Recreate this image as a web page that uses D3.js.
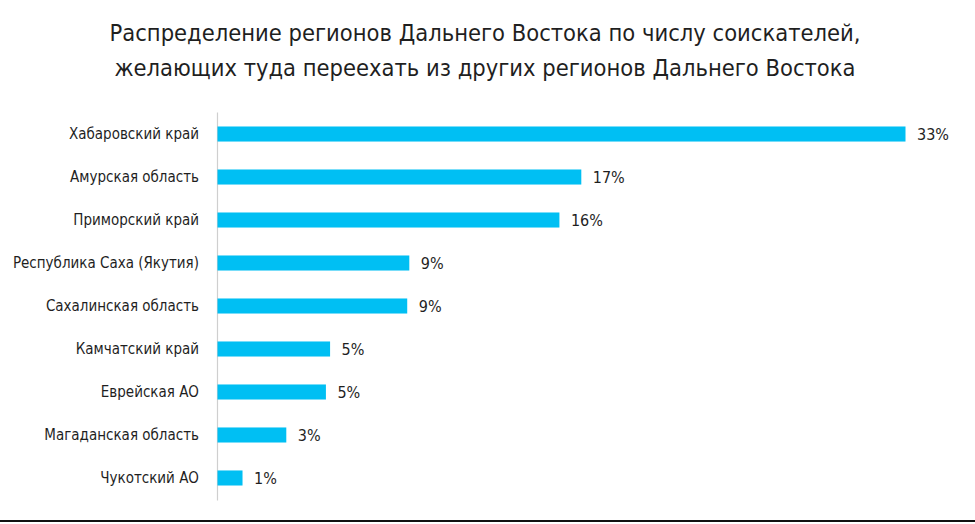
<!DOCTYPE html>
<html>
<head>
<meta charset="utf-8">
<script src="https://cdn.jsdelivr.net/npm/d3@7"></script>
<style>
  body { margin: 0; background: #fff; }
  svg text { font-family: "Liberation Sans Narrow", "DejaVu Sans Condensed", "Roboto", sans-serif; fill: #1f1f1f; }
</style>
</head>
<body>
<div id="chart"></div>
<script>
// data
var regions = ["Хабаровский край", "Амурская область", "Приморский край", "Республика Саха (Якутия)",
  "Сахалинская область", "Камчатский край", "Еврейская АО", "Магаданская область", "Чукотский АО"];
var shares = [33, 17.45, 16.4, 9.2, 9.1, 5.4, 5.2, 3.3, 1.2];
var titleLines = ["Распределение регионов Дальнего Востока по числу соискателей,",
  "желающих туда переехать из других регионов Дальнего Востока"];

var svgWidth = 975;
var svgHeight = 524;

var margin = { top: 112, right: 70, bottom: 24, left: 217 };

var svg = d3.select("#chart")
  .append("svg")
  .attr("width", svgWidth)
  .attr("height", svgHeight);

// title
svg.selectAll(".title")
  .data(titleLines)
  .enter()
  .append("text")
  .attr("class", "title")
  .attr("x", 485)
  .attr("y", (d, i) => 41 + i * 35)
  .attr("text-anchor", "middle")
  .style("font-size", "23.5px")
  .text(d => d);

var chartGroup = svg.append("g")
  .attr("transform", `translate(${margin.left}, ${margin.top})`);

var xScale = d3.scaleLinear()
  .domain([0, 33])
  .range([0, 688]);

var yScale = d3.scaleBand()
  .domain(regions)
  .range([0, 388])
  .paddingInner(0.65)
  .paddingOuter(0.337);

// left axis: just the gray line and the labels
var leftAxis = d3.axisLeft(yScale).tickSize(0).tickPadding(18);
var axisG = chartGroup.append("g").call(leftAxis);
axisG.select(".domain").attr("stroke", "#cfcfcf").attr("stroke-width", 1.2);
axisG.selectAll("text")
  .style("font-size", "15px")
  .style("font-family", "\"Liberation Sans Narrow\", \"DejaVu Sans Condensed\", sans-serif")
  .attr("fill", "#1f1f1f");

chartGroup.selectAll(".bar")
  .data(shares)
  .enter()
  .append("rect")
  .attr("class", "bar")
  .attr("x", 0.5)
  .attr("y", (d, i) => yScale(regions[i]))
  .attr("width", d => xScale(d))
  .attr("height", yScale.bandwidth())
  .attr("fill", "#00bff3");

chartGroup.selectAll(".val")
  .data(shares)
  .enter()
  .append("text")
  .attr("class", "val")
  .attr("x", d => xScale(d) + 12)
  .attr("y", (d, i) => yScale(regions[i]) + yScale.bandwidth() / 2)
  .attr("dy", "0.35em")
  .style("font-size", "16px")
  .text(d => d3.format(".0f")(d) + "%");

// black rule at the bottom
svg.append("line")
  .attr("x1", 0)
  .attr("x2", svgWidth)
  .attr("y1", 521)
  .attr("y2", 521)
  .attr("stroke", "#111")
  .attr("stroke-width", 2);
</script>
</body>
</html>
